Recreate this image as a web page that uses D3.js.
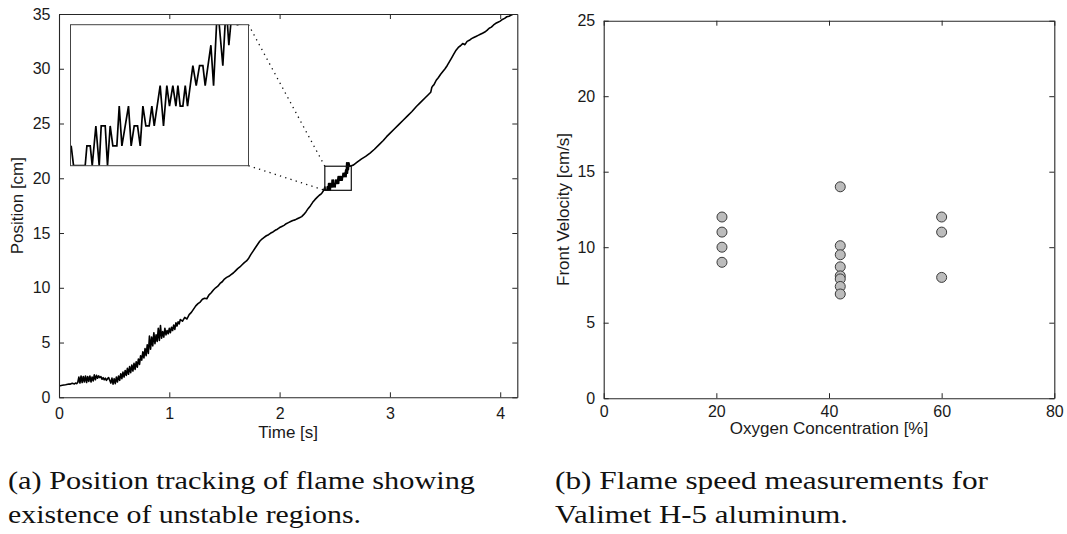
<!DOCTYPE html>
<html><head><meta charset="utf-8">
<script src="https://cdn.jsdelivr.net/npm/d3@7"></script>
<style>body{margin:0;background:#fff} svg{display:block}</style>
</head><body>
<svg id="c" width="1067" height="534"></svg>
<script>
// ---------- DATA ----------
// (a) flame front position [cm] vs time [s]
const flameTrack = [
 [0.00,1.03],[0.03,1.10],[0.06,1.15],[0.09,1.22],[0.10,1.20],[0.12,1.28],[0.14,1.22],[0.15,1.30],[0.16,1.25],
 [0.17,1.35],[0.18,1.85],[0.19,1.30],[0.20,1.95],[0.21,1.35],[0.22,1.90],[0.23,1.40],[0.24,1.95],[0.25,1.35],
 [0.26,1.90],[0.27,1.45],[0.28,1.95],[0.29,1.40],[0.30,1.85],[0.31,1.50],[0.32,2.05],[0.33,1.60],[0.34,2.00],
 [0.35,1.75],[0.36,1.95],[0.37,1.80],[0.38,1.90],[0.39,1.65],[0.40,1.80],[0.41,1.60],[0.42,1.75],[0.43,1.55],
 [0.44,1.70],[0.45,1.80],[0.46,1.55],[0.47,1.30],[0.48,1.75],[0.49,1.20],[0.50,1.70],[0.51,1.25],[0.52,1.85],
 [0.53,1.40],[0.54,1.95],[0.55,1.55],[0.56,2.15],[0.57,1.70],[0.58,2.30],[0.59,1.85],[0.60,2.45],[0.61,2.00],
 [0.62,2.65],[0.63,2.10],[0.64,2.80],[0.65,2.25],[0.66,2.95],[0.67,2.40],[0.68,3.10],[0.69,2.55],[0.70,3.25],
 [0.71,2.75],[0.72,3.50],[0.73,3.00],[0.74,3.80],[0.75,3.40],[0.76,4.15],[0.77,3.60],[0.78,4.45],[0.79,3.80],
 [0.80,4.80],[0.81,4.00],[0.82,5.60],[0.83,4.40],[0.84,5.50],[0.85,4.70],[0.86,5.90],[0.87,4.90],[0.88,5.70],
 [0.89,5.10],[0.90,6.30],[0.91,5.20],[0.92,6.55],[0.93,5.40],[0.94,6.00],[0.95,5.50],[0.96,6.30],[0.97,5.70],
 [0.98,6.10],[0.99,5.80],[1.00,6.30],[1.01,5.90],[1.02,6.40],[1.03,6.10],[1.04,6.60],[1.05,6.20],[1.06,6.80],
 [1.07,6.50],[1.08,6.90],[1.09,6.70],[1.10,7.10],
 [1.12,6.95],[1.14,7.30],[1.16,7.15],[1.18,7.55],[1.20,7.75],[1.22,8.05],[1.24,8.35],[1.26,8.55],[1.28,8.70],
 [1.30,8.95],[1.32,9.05],[1.34,9.00],[1.36,9.35],[1.38,9.55],[1.40,9.80],[1.42,10.00],[1.44,10.15],[1.46,10.40],
 [1.48,10.55],[1.50,10.80],[1.52,10.95],[1.54,11.05],[1.56,11.20],[1.58,11.35],[1.60,11.55],[1.62,11.75],
 [1.64,11.90],[1.66,12.10],[1.68,12.30],[1.70,12.45],[1.72,12.70],[1.74,13.05],[1.76,13.35],[1.78,13.65],
 [1.80,13.95],[1.82,14.25],[1.84,14.45],[1.86,14.60],[1.88,14.75],[1.90,14.85],[1.92,15.00],[1.94,15.10],
 [1.96,15.25],[1.98,15.35],[2.00,15.50],[2.02,15.60],[2.04,15.70],[2.06,15.85],[2.08,15.95],[2.10,16.05],
 [2.12,16.15],[2.14,16.20],[2.16,16.30],[2.18,16.40],[2.20,16.50],[2.22,16.70],[2.24,16.95],[2.26,17.25],
 [2.28,17.50],[2.30,17.80],[2.32,18.05],[2.34,18.25],[2.36,18.45],[2.38,18.60],[2.40,18.90],
 [2.4109,19.21],[2.4141,18.90],[2.4298,18.90],[2.4321,19.21],[2.4366,19.21],[2.4393,18.90],[2.4442,19.52],
 [2.4487,18.90],[2.4514,19.52],[2.4568,19.52],[2.4599,18.90],[2.4635,19.52],[2.4671,19.21],[2.4725,19.21],
 [2.4757,19.83],[2.4793,19.21],[2.4882,19.83],[2.4918,19.21],[2.4959,19.52],[2.5004,19.52],[2.5040,19.21],
 [2.5076,19.83],[2.5116,19.52],[2.5161,19.52],[2.5197,19.83],[2.5229,19.52],[2.5309,20.15],[2.5354,19.52],
 [2.5399,20.15],[2.5435,19.83],[2.5480,20.15],[2.5521,19.83],[2.5548,20.15],[2.5579,19.83],[2.5615,19.83],
 [2.5647,20.15],[2.5678,19.83],[2.5750,20.46],[2.5795,20.15],[2.5840,20.46],[2.5885,20.46],[2.5916,20.15],
 [2.5993,20.78],[2.6029,20.15],[2.6082,21.41],[2.6154,20.46],[2.6199,21.41],[2.6235,20.78],[2.6285,21.41],
 [2.6350,21.10],[2.6500,21.15],[2.668,21.20],
 [2.70,21.45],[2.74,21.75],[2.78,22.00],[2.82,22.30],[2.86,22.65],[2.90,23.05],[2.94,23.45],[2.97,23.80],
 [3.00,24.10],[3.04,24.50],[3.08,24.90],[3.12,25.30],[3.16,25.70],[3.20,26.10],[3.24,26.55],[3.28,26.95],
 [3.32,27.35],[3.35,27.65],[3.37,27.85],[3.38,28.30],[3.39,28.45],[3.40,28.55],[3.42,28.95],[3.44,29.20],
 [3.46,29.50],[3.48,29.75],[3.50,30.00],[3.52,30.30],[3.54,30.65],[3.56,31.00],[3.58,31.35],[3.60,31.70],
 [3.62,31.95],[3.64,32.10],[3.66,32.30],[3.68,32.20],[3.70,32.50],[3.72,32.60],[3.74,32.75],[3.76,32.85],
 [3.78,32.95],[3.80,33.05],[3.82,33.15],[3.84,33.25],[3.86,33.35],[3.88,33.50],[3.90,33.70],[3.92,33.80],
 [3.94,34.00],[3.96,34.15],[3.98,34.25],[4.00,34.35],[4.02,34.50],[4.04,34.60],[4.06,34.75],[4.08,34.80],
 [4.10,34.90],[4.12,35.00],[4.15,35.05]
];
const timeDomain = [0, 4.155];
const positionDomain = [0, 35];
const timeTicks = [0, 1, 2, 3, 4];
const positionTicks = [0, 5, 10, 15, 20, 25, 30, 35];
const zoomTime = [2.41, 2.65];
const zoomPosition = [18.9, 21.1];

// (b) flame speed measurements
const oxygenPct = [21, 21, 21, 21, 42, 42, 42, 42, 42, 42, 42, 42, 60, 60, 60];
const frontVelocity = [12, 11, 10, 9, 14, 10.1, 9.5, 8.7, 8.1, 7.9, 7.4, 6.9, 12, 11, 8];
const oxygenDomain = [0, 80];
const velocityDomain = [0, 25];
const oxygenTicks = [0, 20, 40, 60, 80];
const velocityTicks = [0, 5, 10, 15, 20, 25];

const captionA = ["(a) Position tracking of flame showing", "existence of unstable regions."];
const captionB = ["(b) Flame speed measurements for", "Valimet H-5 aluminum."];

// ---------- DRAW ----------
const svg = d3.select("#c");
const AX = "#262626";
const SANS = "'Liberation Sans', Arial, Helvetica, sans-serif";
const SERIF = "'Liberation Serif', 'Times New Roman', serif";

function frame(g, x, y, xt, yt, opts) {
  const [x0, x1] = x.range(), [y0, y1] = y.range();
  const tk = 5;
  const bottom = g.append("g").attr("transform", `translate(0,${y0})`)
    .call(d3.axisBottom(x).tickValues(xt).tickSizeInner(-tk).tickSizeOuter(0).tickPadding(opts.xPad).tickFormat(d3.format("d")));
  const top = g.append("g").attr("transform", `translate(0,${y1})`)
    .call(d3.axisTop(x).tickValues(xt).tickSizeInner(-tk).tickSizeOuter(0).tickFormat(""));
  const left = g.append("g").attr("transform", `translate(${x0},0)`)
    .call(d3.axisLeft(y).tickValues(yt).tickSizeInner(-tk).tickSizeOuter(0).tickPadding(opts.yPad).tickFormat(d3.format("d")));
  const right = g.append("g").attr("transform", `translate(${x1},0)`)
    .call(d3.axisRight(y).tickValues(yt).tickSizeInner(-tk).tickSizeOuter(0).tickFormat(""));
  [bottom, top, left, right].forEach(a => {
    a.attr("font-family", null).attr("font-size", null);
    a.selectAll("path.domain").attr("stroke", AX).attr("stroke-width", 1.1);
    a.selectAll(".tick line").attr("stroke", AX).attr("stroke-width", 1);
    a.selectAll("text").attr("fill", "#1a1a1a").style("font-family", SANS).style("font-size", "16px");
  });
  g.append("text").attr("x", (x0 + x1) / 2).attr("y", opts.xLabelY)
    .attr("text-anchor", "middle").style("font-family", SANS).style("font-size", "17px").attr("fill", "#1a1a1a")
    .text(opts.xLabel);
  g.append("text").attr("transform", `translate(${opts.yLabelX},${(y0 + y1) / 2}) rotate(-90)`)
    .attr("text-anchor", "middle").style("font-family", SANS).style("font-size", "17px").attr("fill", "#1a1a1a")
    .text(opts.yLabel);
}

// ----- panel (a)
const xA = d3.scaleLinear().domain(timeDomain).range([59, 517.3]);
const yA = d3.scaleLinear().domain(positionDomain).range([397.3, 14]);
const gA = svg.append("g");
const defs = svg.append("defs");
defs.append("clipPath").attr("id", "clipA")
  .append("rect").attr("x", 59).attr("y", 14).attr("width", 517.3 - 59).attr("height", 397.3 - 14);

const lineA = d3.line().x(d => xA(d[0])).y(d => yA(d[1]));
gA.append("path").datum(flameTrack).attr("clip-path", "url(#clipA)")
  .attr("d", lineA).attr("fill", "none").attr("stroke", "#000").attr("stroke-width", 1.6)
  .attr("stroke-linejoin", "round");

// zoom box in main axes
const zx0 = xA(zoomTime[0]), zx1 = xA(zoomTime[1]);
const zy0 = yA(zoomPosition[1]), zy1 = yA(zoomPosition[0]);
gA.append("rect").attr("x", zx0).attr("y", zy0).attr("width", zx1 - zx0).attr("height", zy1 - zy0)
  .attr("fill", "none").attr("stroke", "#111").attr("stroke-width", 1.2);

// inset
const inset = {x0: 70.5, x1: 248.5, y0: 24.7, y1: 165.7};
const xI = d3.scaleLinear().domain(zoomTime).range([inset.x0, inset.x1]);
const yI = d3.scaleLinear().domain(zoomPosition).range([inset.y1, inset.y0]);
[[inset.x1, inset.y0, zx0, zy0], [inset.x1, inset.y1, zx0, zy1]].forEach(([a, b, c, d]) => {
  gA.append("line").attr("x1", a).attr("y1", b).attr("x2", c).attr("y2", d)
    .attr("stroke", "#111").attr("stroke-width", 1.3).attr("stroke-dasharray", "1.3,4.2");
});
gA.append("rect").attr("x", inset.x0).attr("y", inset.y0)
  .attr("width", inset.x1 - inset.x0).attr("height", inset.y1 - inset.y0).attr("fill", "#fff");
defs.append("clipPath").attr("id", "clipI")
  .append("rect").attr("x", inset.x0).attr("y", inset.y0)
  .attr("width", inset.x1 - inset.x0).attr("height", inset.y1 - inset.y0);
const lineI = d3.line().x(d => xI(d[0])).y(d => yI(d[1]));
gA.append("path").datum(flameTrack.filter(d => d[0] > zoomTime[0] - 0.02 && d[0] < zoomTime[1] + 0.03))
  .attr("clip-path", "url(#clipI)").attr("d", lineI)
  .attr("fill", "none").attr("stroke", "#000").attr("stroke-width", 1.7).attr("stroke-linejoin", "miter");
gA.append("rect").attr("x", inset.x0).attr("y", inset.y0)
  .attr("width", inset.x1 - inset.x0).attr("height", inset.y1 - inset.y0)
  .attr("fill", "none").attr("stroke", "#444").attr("stroke-width", 1);

frame(gA, xA, yA, timeTicks, positionTicks,
  {xPad: 10, yPad: 8.5, xLabel: "Time [s]", xLabelY: 438, yLabel: "Position [cm]", yLabelX: 23});

// ----- panel (b)
const xB = d3.scaleLinear().domain(oxygenDomain).range([603.7, 1054.3]);
const yB = d3.scaleLinear().domain(velocityDomain).range([398.2, 20.7]);
const gB = svg.append("g");
gB.selectAll("circle").data(d3.range(oxygenPct.length)).join("circle")
  .attr("cx", i => xB(oxygenPct[i])).attr("cy", i => yB(frontVelocity[i])).attr("r", 5)
  .attr("fill", "#bcbcbc").attr("stroke", "#3a3a3a").attr("stroke-width", 1);
frame(gB, xB, yB, oxygenTicks, velocityTicks,
  {xPad: 7, yPad: 8.5, xLabel: "Oxygen Concentration [%]", xLabelY: 434, yLabel: "Front Velocity [cm/s]", yLabelX: 569});

// ----- captions
function caption(lines, x, widths) {
  lines.forEach((t, i) => {
    svg.append("text").attr("x", x).attr("y", 489 + i * 34)
      .style("font-family", SERIF).style("font-size", "26px").attr("fill", "#111")
      .attr("textLength", widths[i]).attr("lengthAdjust", "spacingAndGlyphs")
      .text(t);
  });
}
caption(captionA, 8, [467, 353]);
caption(captionB, 555, [433, 293]);
</script>
</body></html>
